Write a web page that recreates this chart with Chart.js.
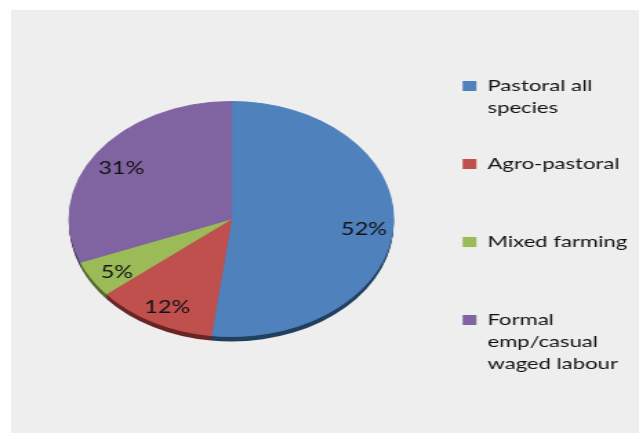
<!DOCTYPE html>
<html>
<head>
<meta charset="utf-8">
<script src="https://cdn.jsdelivr.net/npm/chart.js@4.4.1/dist/chart.umd.min.js"></script>
<style>
    html, body { margin: 0; padding: 0; background: #fff; overflow: hidden; width: 639px; height: 433px; }
    #fondo { position: absolute; left: 11px; top: 10px; width: 628px; height: 423px; background: #eeeeee; }
    /* el lienzo se estira en horizontal para dar el efecto de pastel inclinado */
    #lienzo { position: absolute; left: 0; top: 0; width: 470px; height: 433px; transform: scaleX(1.38); transform-origin: 0 0; }
</style>
</head>
<body>
<div id="fondo"></div>
<canvas id="lienzo" width="470" height="433"></canvas>
<script>
// Datos de la gráfica
const categorias = [['Pastoral all', 'species'], ['Agro-pastoral'], ['Mixed farming'], ['Formal', 'emp/casual', 'waged labour']];
const valores = [52, 12, 5, 31];
const colores = ['#4f81bd', '#c0504d', '#9bbb59', '#8064a2'];
const coloresLado = ['#22405f', '#6a2624', '#55692c', '#46365c'];

const PROFUNDIDAD = 5;

// Canto inferior del pastel (copias desplazadas hacia abajo)
const cantoPastel = {
    id: 'cantoPastel',
    beforeDatasetsDraw(chart) {
        const ctx = chart.ctx;
        const arcos = chart.getDatasetMeta(0).data;
        ctx.save();
        for (let d = PROFUNDIDAD; d > 0; d--) {
            arcos.forEach((arco, i) => {
                const p = arco.getProps(['x', 'y', 'startAngle', 'endAngle', 'outerRadius']);
                ctx.beginPath();
                ctx.moveTo(p.x, p.y + d);
                ctx.arc(p.x, p.y + d, p.outerRadius, p.startAngle, p.endAngle);
                ctx.closePath();
                ctx.fillStyle = coloresLado[i];
                ctx.fill();
            });
        }
        ctx.restore();
    }
};

// Porcentajes dentro de cada rebanada
const etiquetasPct = {
    id: 'etiquetasPct',
    afterDatasetsDraw(chart) {
        const ctx = chart.ctx;
        const arcos = chart.getDatasetMeta(0).data;
        ctx.save();
        ctx.font = '17px Lato';
        ctx.fillStyle = '#111';
        ctx.textAlign = 'center';
        ctx.textBaseline = 'middle';
        arcos.forEach((arco, i) => {
            const p = arco.getProps(['x', 'y', 'startAngle', 'endAngle', 'outerRadius']);
            const medio = (p.startAngle + p.endAngle) / 2;
            const r = p.outerRadius * 0.82;
            ctx.fillText(valores[i] + '%', p.x + Math.cos(medio) * r, p.y + Math.sin(medio) * r + 4);
        });
        ctx.restore();
    }
};

new Chart(document.getElementById('lienzo'), {
    type: 'pie',
    data: {
        labels: categorias,
        datasets: [{
            data: valores,
            backgroundColor: colores,
            borderColor: colores,
            borderWidth: 1,
            radius: 117.5
        }]
    },
    options: {
        responsive: false,
        animation: false,
        layout: { padding: { left: 12, right: 5.5, top: 48, bottom: 43 } },
        plugins: {
            tooltip: { enabled: false },
            legend: {
                position: 'right',
                align: 'end',
                labels: {
                    boxWidth: 10,
                    boxHeight: 10,
                    padding: 12,
                    color: '#111',
                    font: { family: 'Lato', size: 16, lineHeight: 1.375 },
                    generateLabels(chart) {
                        const items = Chart.overrides.pie.plugins.legend.labels.generateLabels(chart);
                        items.forEach(item => {
                            const lineas = [].concat(item.text);
                            while (lineas.length < 3) lineas.push('');
                            item.text = lineas;
                            item.lineWidth = 0;
                        });
                        return items;
                    }
                }
            }
        }
    },
    plugins: [cantoPastel, etiquetasPct]
});
</script>
</body>
</html>
